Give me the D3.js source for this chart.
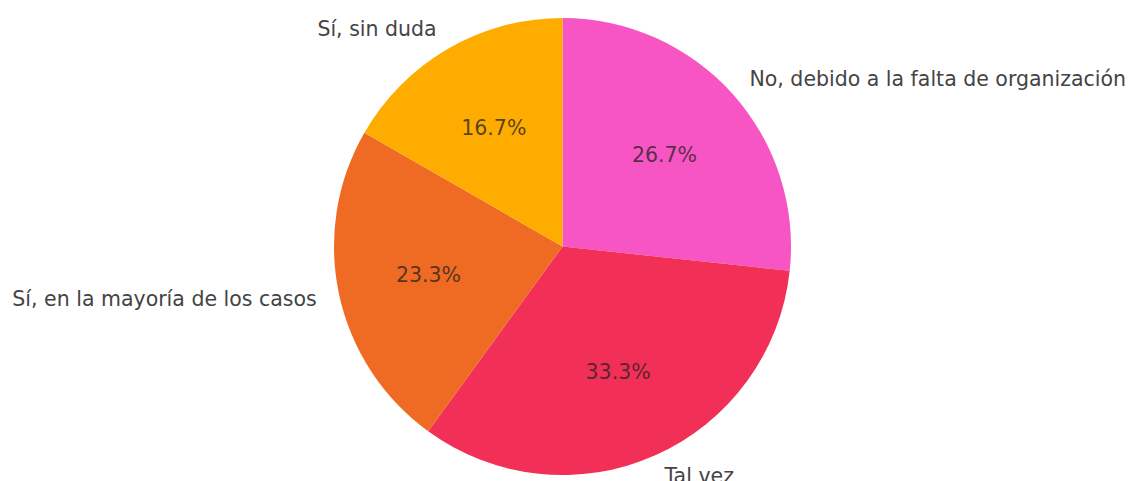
<!DOCTYPE html>
<html>
<head>
<meta charset="utf-8">
<script src="https://cdn.jsdelivr.net/npm/d3@7"></script>
<style>
  body { margin: 0; background: #fff; }
  text { font-family: "DejaVu Sans", sans-serif; }
</style>
</head>
<body>
<div id="chart"></div>
<script>
// Slice data, in drawing order (clockwise from 12 o'clock)
const categories = ["No, debido a la falta de organización", "Tal vez", "Sí, en la mayoría de los casos", "Sí, sin duda"];
const values = [26.7, 33.3, 23.3, 16.7];
const colors = ["#F655C3", "#F23057", "#EF6A23", "#FFAC00"];

const width = 1132, height = 481;
const cx = 562.5, cy = 246.5, radius = 228.5;

const svg = d3.select("#chart").append("svg")
    .attr("width", width)
    .attr("height", height);

const g = svg.append("g")
    .attr("transform", "translate(" + cx + "," + cy + ")");

const data = categories.map((c, i) => ({ label: c, value: values[i], color: colors[i] }));

// d3 pie angles start at 12 o'clock and go clockwise
const pie = d3.pie()
    .sort(null)
    .value(d => d.value);

const arc = d3.arc()
    .innerRadius(0)
    .outerRadius(radius);

const arcs = pie(data);

g.selectAll(".slice")
    .data(arcs)
    .enter().append("path")
    .attr("class", "slice")
    .attr("d", arc)
    .attr("fill", d => d.data.color);

// helper: point at a fraction of radius along mid angle
function pointAt(d, f) {
    const a = (d.startAngle + d.endAngle) / 2;
    return [Math.sin(a) * radius * f, -Math.cos(a) * radius * f];
}

// Percent labels inside
g.selectAll(".pct")
    .data(arcs)
    .enter().append("text")
    .attr("class", "pct")
    .attr("x", d => pointAt(d, 0.6)[0])
    .attr("y", d => pointAt(d, 0.6)[1])
    .attr("text-anchor", "middle")
    .attr("dominant-baseline", "central")
    .style("font-size", "20.5px")
    .style("fill", "#222")
    .style("fill-opacity", 0.75)
    .text(d => d.data.value.toFixed(1) + "%");

// Category labels outside
g.selectAll(".lbl")
    .data(arcs)
    .enter().append("text")
    .attr("class", "lbl")
    .attr("x", d => pointAt(d, 1.1)[0])
    .attr("y", d => pointAt(d, 1.1)[1])
    .attr("text-anchor", d => pointAt(d, 1)[0] > 0 ? "start" : "end")
    .attr("dominant-baseline", "central")
    .style("font-size", "20.5px")
    .style("fill", "#444")
    .text(d => d.data.label);
</script>
</body>
</html>
